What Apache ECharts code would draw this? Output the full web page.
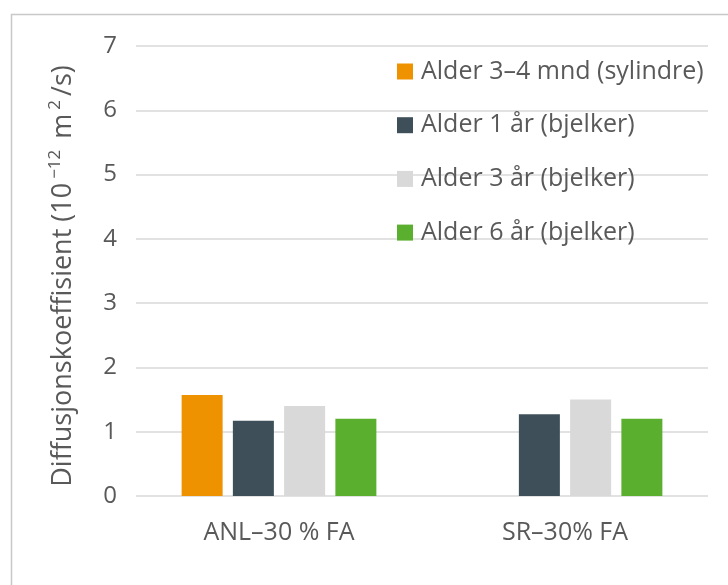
<!DOCTYPE html>
<html><head><meta charset="utf-8">
<script src="https://cdn.jsdelivr.net/npm/echarts@6/dist/echarts.min.js"></script>
<style>html,body{margin:0;padding:0;background:#fff}#c{width:728px;height:585px}</style>
</head><body><div id="c"></div>
<script>
const categories = ['ANL\u201330 % FA', 'SR\u201330% FA'];
const seriesNames = ['Alder 3\u20134 mnd (sylindre)', 'Alder 1 år (bjelker)', 'Alder 3 år (bjelker)', 'Alder 6 år (bjelker)'];
const alder34mnd = [1.57, null];
const alder1aar = [1.17, 1.27];
const alder3aar = [1.40, 1.50];
const alder6aar = [1.20, 1.20];
const yTicks = [0, 1, 2, 3, 4, 5, 6, 7];
const colors = ['#EE9200', '#3E4F5A', '#D9D9D9', '#5AAF2E'];
const values = [alder34mnd, alder1aar, alder3aar, alder6aar];
const FONT = 'Open Sans';
const chart = echarts.init(document.getElementById('c'), null, {renderer: 'canvas'});
chart.setOption({
  animation: false,
  graphic: [{type: 'rect', shape: {x: 11.5, y: 14.5, width: 740, height: 600},
    style: {fill: 'none', stroke: '#c8c8c8', lineWidth: 1.5}, z: -1}],
  grid: {left: 136, right: 20, top: 46, bottom: 89, containLabel: false},
  legend: {
    orient: 'vertical', left: 392, top: 54, itemWidth: 16, itemHeight: 16, itemGap: 28.7,
    icon: 'rect',
    textStyle: {fontFamily: FONT, fontSize: 25, color: '#595959', padding: [0, 0, 0, 3]},
    data: seriesNames
  },
  xAxis: {
    type: 'category', data: categories,
    axisLine: {show: false}, axisTick: {show: false},
    axisLabel: {fontFamily: FONT, fontSize: 25, color: '#595959', margin: 24}
  },
  yAxis: {
    type: 'value', min: yTicks[0], max: yTicks[yTicks.length - 1], interval: 1,
    name: '{a|Diffusjonskoeffisient (10}{s|\u221212}{a| m}{s|2}{a|/s)}',
    nameLocation: 'middle', nameGap: 57,
    nameTextStyle: {fontFamily: FONT, fontSize: 27, color: '#595959', padding: [0, 10, 0, 0],
      rich: {
        a: {fontFamily: FONT, fontSize: 27, color: '#595959', lineHeight: 32},
        s: {fontFamily: FONT, fontSize: 17, color: '#595959', verticalAlign: 'top', lineHeight: 24, padding: [0, 4, 0, 4]}
      }},
    axisLine: {show: false}, axisTick: {show: false},
    axisLabel: {fontFamily: FONT, fontSize: 24, color: '#595959', margin: 19},
    splitLine: {lineStyle: {color: '#d9d9d9', width: 1.5}}
  },
  series: seriesNames.map((n, i) => ({
    name: n, type: 'bar', data: values[i], barWidth: 41, barGap: '25%',
    itemStyle: {color: colors[i]}
  }))
});
</script></body></html>
